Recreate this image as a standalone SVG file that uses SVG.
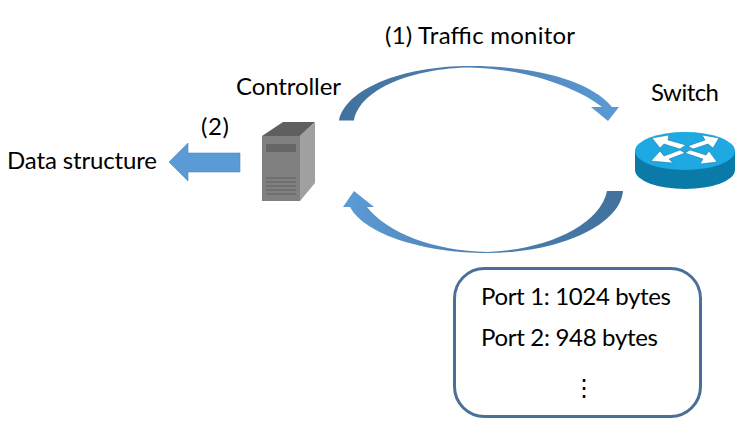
<svg xmlns="http://www.w3.org/2000/svg" width="746" height="434" viewBox="0 0 746 434">
<style>
text{font-family:"Lato","Open Sans",sans-serif;font-size:24px;fill:#000}
.ln{stroke:#5f5f5f;stroke-width:1.2;fill:none}
.wa{fill:#fff;stroke:#0f6f9c;stroke-width:.5}
</style>
<defs>
<linearGradient id="g1" gradientUnits="userSpaceOnUse" x1="339" y1="120" x2="619" y2="110"><stop offset="0" stop-color="#41719c"/><stop offset=".55" stop-color="#4f81b4"/><stop offset="1" stop-color="#5b9bd5"/></linearGradient>
<linearGradient id="g2" gradientUnits="userSpaceOnUse" x1="623" y1="195" x2="345" y2="205"><stop offset="0" stop-color="#41719c"/><stop offset=".55" stop-color="#4f81b4"/><stop offset="1" stop-color="#5b9bd5"/></linearGradient>
</defs>
<rect width="746" height="434" fill="#fff"/>
<g id="connectors">
<path id="arc-top" fill="url(#g1)" d="M339 120.500C345 90 400 66 470 66C528 66 588 78 612 107L619 107L608 121L591 107L602 107C578 88 528 69 470 67.500C415 68 360 88 354 120.500Z"/>
<path id="arc-bottom" fill="url(#g2)" d="M607 191C600 226 545 250 487 252C435 251 387 233 367 207L374 207L354 191L343 207L350 207C365 235 425 253 487 253C560 253 620 225 623 191Z"/>
<path id="arrow-left" fill="#5b9bd5" stroke="#5289bb" stroke-width=".6" d="M240 153L188 153L188 143L169 162L188 181L188 172L240 172Z"/>
</g>
<g id="controller">
<polygon points="262,136 283,122 315,122 300,136" fill="#5f5f5f"/>
<polygon points="262,136 300,136 300,201 262,201" fill="#808080"/>
<polygon points="300,136 315,122 315,183 300,201" fill="#a0a0a0"/>
<rect x="266" y="144" width="30" height="8" fill="#666"/>
<path class="ln" d="M266 178H296M266 182H296M266 186H296M266 190H296M266 194H296"/>
<text x="236" y="95" textLength="105">Controller</text>
</g>
<g id="switch">
<path d="M635 151V170A50 19 0 0 0 735 170V151Z" fill="#0a7ba8"/>
<ellipse cx="685" cy="151" rx="50" ry="19" fill="#1ea9e3"/>
<polygon class="wa" points="652,138 669,135 668,140 686,145 680,149 664,144 660,148"/>
<polygon class="wa" points="719,138 702,135 705,140 688,146 693,149 708,144 713,148"/>
<polygon class="wa" points="651,161 660,151 664,156 680,150 685,153 669,159 673,163"/>
<polygon class="wa" points="717,162 700,164 703,159 685,153 690,150 706,155 709,151"/>
<text x="651" y="101" textLength="68">Switch</text>
</g>
<g id="labels">
<text x="385" y="44" textLength="190">(1) Traffic monitor</text>
<text x="201" y="135" textLength="28">(2)</text>
<text x="7" y="169" textLength="150">Data structure</text>
</g>
<g id="port-box">
<rect x="454.500" y="268.500" width="246" height="148" rx="30" fill="#fff" stroke="#4a7098" stroke-width="3"/>
<text x="481" y="305" textLength="190">Port 1: 1024 bytes</text>
<text x="481" y="346" textLength="177">Port 2: 948 bytes</text>
<text x="584" y="396" text-anchor="middle" style="font-family:'DejaVu Sans',sans-serif;font-size:24px">⋮</text>
</g>
</svg>
